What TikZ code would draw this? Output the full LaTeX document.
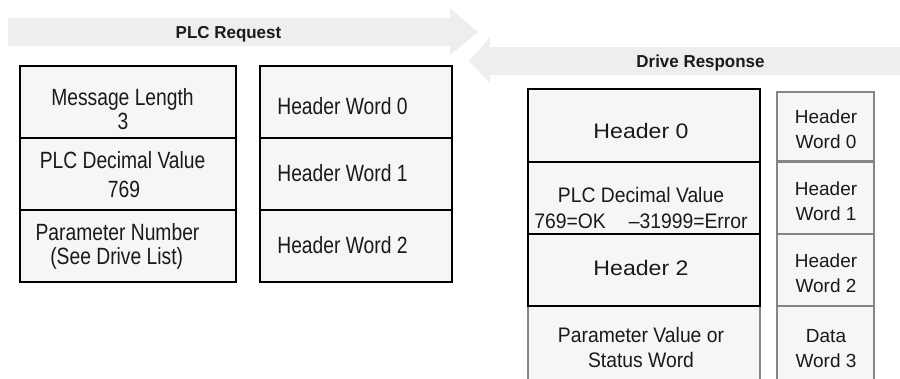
\documentclass[tikz,border=0pt]{standalone}
\usepackage{fontspec}
\setmainfont{Liberation Sans}
\newfontfamily\lfont[FakeStretch=0.82]{Liberation Sans}
\newfontfamily\rfont[FakeStretch=0.92]{Liberation Sans}
\newfontfamily\hfont[FakeStretch=1.1]{Liberation Sans}
\newfontfamily\sfont{Liberation Sans}
\newfontfamily\tfont[FakeStretch=0.98]{Liberation Sans Bold}
\definecolor{arrowfill}{HTML}{EEEEEE}
\definecolor{boxfill}{HTML}{F6F6F6}
\definecolor{grayline}{HTML}{858585}
\definecolor{txt}{HTML}{1A1A1A}
\begin{document}
\begin{tikzpicture}[x=1pt,y=-1pt,
  blk/.style={draw=black,line width=2.2pt,fill=boxfill,inner sep=0pt},
  gry/.style={draw=grayline,line width=2.6pt,fill=boxfill,inner sep=0pt},
  band/.style={fill=arrowfill,draw=none},
  ltxt/.style={anchor=base,inner sep=0pt,text=txt,font=\lfont\fontsize{23.5}{24}\selectfont},
  rtxt/.style={anchor=base,inner sep=0pt,text=txt,font=\rfont\fontsize{21}{22}\selectfont},
  htxt/.style={anchor=base,inner sep=0pt,text=txt,font=\hfont\fontsize{21}{22}\selectfont},
  stxt/.style={anchor=base,inner sep=0pt,text=txt,font=\sfont\fontsize{19}{20}\selectfont},
  ttl/.style={anchor=base,inner sep=0pt,text=txt,font=\tfont\fontsize{17.3}{18}\selectfont}]
\useasboundingbox (0,0) rectangle (900,378);

% arrows
\fill[band] (8,18) -- (450,18) -- (450,8) -- (478,32) -- (450,55) -- (450,46) -- (8,46) -- cycle;
\fill[band] (900,47) -- (490,47) -- (490,37) -- (469,61) -- (490,83) -- (490,75) -- (900,75) -- cycle;
\node[ttl] (req) at (228.5,38) {PLC Request};
\node[ttl] (resp) at (700.5,67) {Drive Response};

% left group 1
\node[blk,minimum width=216pt,minimum height=72pt] (a1) at (128,102) {};
\node[blk,minimum width=216pt,minimum height=72pt] (a2) at (128,174) {};
\node[blk,minimum width=216pt,minimum height=72pt] (a3) at (128,246) {};
\node[ltxt] (a1t) at (122.5,105) {Message Length};
\node[ltxt] (a1u) at (123,129) {3};
\node[ltxt] (a2t) at (122.6,168) {PLC Decimal Value};
\node[ltxt] (a2u) at (124,197) {769};
\node[ltxt] (a3t) at (117.5,240) {Parameter Number};
\node[ltxt] (a3u) at (116.7,264.5) {(See Drive List)};

% left group 2
\node[blk,minimum width=192pt,minimum height=72pt] (b1) at (356,102) {};
\node[blk,minimum width=192pt,minimum height=72pt] (b2) at (356,174) {};
\node[blk,minimum width=192pt,minimum height=72pt] (b3) at (356,246) {};
\node[ltxt] (b1t) at (342.5,114) {Header Word 0};
\node[ltxt] (b2t) at (342.5,181) {Header Word 1};
\node[ltxt] (b3t) at (342.5,253) {Header Word 2};

% right main column
\fill[boxfill] (528,306) rectangle (760,380);
\draw[grayline,line width=2.6pt] (528,306) -- (528,380) (760,306) -- (760,380);
\node[blk,minimum width=232pt,minimum height=72.7pt] (c1) at (644,125.35) {};
\node[blk,minimum width=232pt,minimum height=72.3pt] (c2) at (644,197.85) {};
\node[blk,minimum width=232pt,minimum height=72pt] (c3) at (644,270) {};
\node[htxt] (c1t) at (641,138) {Header 0};
\node[rtxt] (c2t) at (641,202) {PLC Decimal Value};
\node[rtxt] (c2u) at (641,228) {769=OK\hspace{23pt}–31999=Error};
\node[htxt] (c3t) at (641,275) {Header 2};
\node[rtxt] (c4t) at (641,342) {Parameter Value or};
\node[rtxt] (c4u) at (641,367) {Status Word};

% right small column
\fill[boxfill] (777,306) rectangle (874,380);
\draw[grayline,line width=2.6pt] (777,306) -- (777,380) (874,306) -- (874,380);
\node[gry,minimum width=97pt,minimum height=69.7pt] (d1) at (825.5,126.85) {};
\node[gry,minimum width=97pt,minimum height=72.3pt] (d2) at (825.5,197.85) {};
\node[gry,minimum width=97pt,minimum height=72pt] (d3) at (825.5,270) {};
\draw[grayline,line width=2.6pt] (777,306) -- (874,306);
\node[stxt] (d1t) at (826,123) {Header};
\node[stxt] (d1u) at (826,148) {Word 0};
\node[stxt] (d2t) at (826,195) {Header};
\node[stxt] (d2u) at (826,220) {Word 1};
\node[stxt] (d3t) at (826,267) {Header};
\node[stxt] (d3u) at (826,292) {Word 2};
\node[stxt] (d4t) at (826,342) {Data};
\node[stxt] (d4u) at (826,367) {Word 3};
\end{tikzpicture}
\end{document}
